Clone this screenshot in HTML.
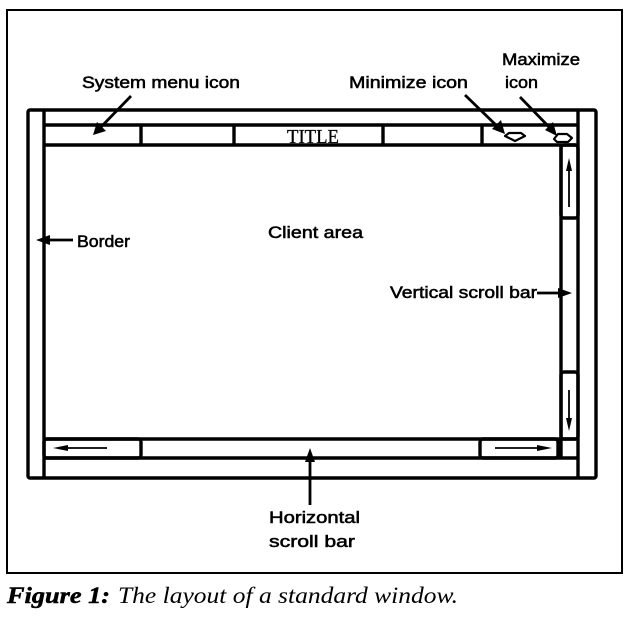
<!DOCTYPE html>
<html>
<head>
<meta charset="utf-8">
<style>
  html,body{margin:0;padding:0;background:#fff;}
  body{width:640px;height:619px;overflow:hidden;}
  svg{display:block;}
  .lbl{font-family:"Liberation Sans",sans-serif;font-size:17px;fill:#000;stroke:#000;stroke-width:0.55;}
</style>
</head>
<body>
<svg width="640" height="619" viewBox="0 0 640 619" xmlns="http://www.w3.org/2000/svg">
  <!-- outer figure frame -->
  <rect x="7" y="10" width="615" height="563" fill="none" stroke="#000" stroke-width="2"/>

  <g fill="none" stroke="#000" stroke-width="3.4" stroke-linejoin="round">
    <!-- window outer -->
    <rect x="28" y="110" width="568" height="368" rx="2"/>
    <!-- left border inner -->
    <line x1="44" y1="110" x2="44" y2="478"/>
    <!-- right border inner -->
    <line x1="578" y1="110" x2="578" y2="478"/>
    <!-- title bar lines -->
    <line x1="44" y1="125" x2="578" y2="125"/>
    <line x1="44" y1="145" x2="578" y2="145"/>
    <!-- title bar dividers -->
    <line x1="141" y1="125" x2="141" y2="145"/>
    <line x1="234" y1="125" x2="234" y2="145"/>
    <line x1="383" y1="125" x2="383" y2="145"/>
    <line x1="482" y1="125" x2="482" y2="145"/>
    <!-- vertical scroll bar -->
    <line x1="561" y1="145" x2="561" y2="458"/>
    <rect x="561" y="145" width="17" height="73" rx="3"/>
    <rect x="561" y="372" width="17" height="67" rx="3"/>
    <!-- horizontal scroll bar -->
    <line x1="44" y1="439" x2="578" y2="439"/>
    <line x1="44" y1="458" x2="578" y2="458"/>
    <rect x="44" y="439" width="97" height="19" rx="3"/>
    <rect x="480" y="439" width="78" height="19" rx="3"/>
  </g>

  <!-- min/max icons -->
  <polygon points="505,136 509,133 521,133 525,136 515,141" fill="none" stroke="#000" stroke-width="2.2" stroke-linejoin="round"/>
  <polygon points="554,139 558,134 567,134 572,138 568,142 557,142" fill="none" stroke="#000" stroke-width="2.2" stroke-linejoin="round"/>

  <!-- scroll arrows -->
  <g stroke="#000" stroke-width="1.8" fill="#000">
    <line x1="569" y1="168" x2="569" y2="207"/>
    <polygon points="569,158 566,171 572,171" stroke="none"/>
    <line x1="569" y1="390" x2="569" y2="420"/>
    <polygon points="569,431 566,418 572,418" stroke="none"/>
    <line x1="66" y1="448" x2="107" y2="448"/>
    <polygon points="53,448 68,445 68,451" stroke="none"/>
    <line x1="495" y1="448" x2="538" y2="448"/>
    <polygon points="552,448 537,445 537,451" stroke="none"/>
  </g>

  <!-- callout arrows -->
  <g stroke="#000" stroke-width="2.8" fill="#000">
    <line x1="131" y1="96" x2="100" y2="128"/>
    <polygon points="93,135 97,122 106,131" stroke="none"/>
    <line x1="465" y1="95" x2="498" y2="127"/>
    <polygon points="505,134 492,129 501,120" stroke="none"/>
    <line x1="520" y1="97" x2="551" y2="129"/>
    <polygon points="557,136 545,130 553,122" stroke="none"/>
    <line x1="310" y1="460" x2="310" y2="505"/>
    <polygon points="310,448 305,462 315,462" stroke="none"/>
    <line x1="48" y1="240" x2="73" y2="240"/>
    <polygon points="36,240 50,235 50,245" stroke="none"/>
    <line x1="537" y1="293" x2="560" y2="293"/>
    <polygon points="572,293 558,288 558,298" stroke="none"/>
  </g>

  <!-- labels -->
  <text class="lbl" x="82" y="88" textLength="158" lengthAdjust="spacingAndGlyphs">System menu icon</text>
  <text class="lbl" x="349" y="88" textLength="119" lengthAdjust="spacingAndGlyphs">Minimize icon</text>
  <text class="lbl" x="502" y="65" textLength="78" lengthAdjust="spacingAndGlyphs">Maximize</text>
  <text class="lbl" x="505" y="88" textLength="33" lengthAdjust="spacingAndGlyphs">icon</text>
  <text class="lbl" x="77" y="247" textLength="53" lengthAdjust="spacingAndGlyphs">Border</text>
  <text class="lbl" x="268" y="238" textLength="95" lengthAdjust="spacingAndGlyphs">Client area</text>
  <text class="lbl" x="390" y="298" textLength="147" lengthAdjust="spacingAndGlyphs">Vertical scroll bar</text>
  <text class="lbl" x="269" y="523" textLength="91" lengthAdjust="spacingAndGlyphs">Horizontal</text>
  <text class="lbl" x="269" y="547" textLength="86" lengthAdjust="spacingAndGlyphs">scroll bar</text>
  <text x="287" y="143" font-family="'Liberation Serif',serif" font-size="20" textLength="52" lengthAdjust="spacingAndGlyphs" fill="#000" stroke="#000" stroke-width="0.3">TITLE</text>

  <!-- caption -->
  <text x="7" y="603" font-family="'Liberation Serif',serif" font-size="23" font-style="italic" font-weight="bold" textLength="103" lengthAdjust="spacingAndGlyphs" fill="#000" stroke="#000" stroke-width="0.5">Figure 1:</text>
  <text x="118" y="603" font-family="'Liberation Serif',serif" font-size="23" font-style="italic" textLength="340" lengthAdjust="spacingAndGlyphs" fill="#000">The layout of a standard window.</text>
</svg>
</body>
</html>
